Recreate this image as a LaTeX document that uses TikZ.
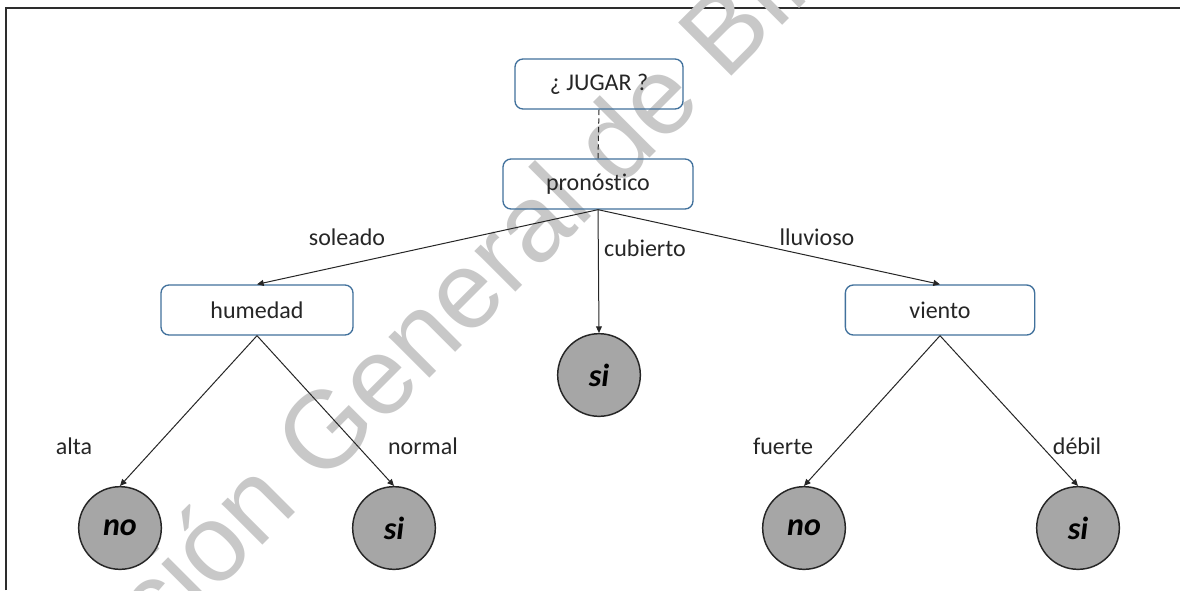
\documentclass[tikz,border=0pt]{standalone}
\usepackage{fontspec}
\setmainfont{Carlito}[Ligatures=NoCommon]
\newfontfamily\wmfont{Liberation Sans}
\usetikzlibrary{arrows.meta}
\definecolor{boxblue}{RGB}{65,113,156}
\definecolor{leafgray}{RGB}{166,166,166}
\definecolor{wmgray}{RGB}{200,200,200}
\definecolor{framegray}{RGB}{45,45,45}
\begin{document}
\begin{tikzpicture}[x=0.75pt,y=-0.75pt,
  decision/.style={draw=boxblue, line width=1pt, rounded corners=6pt,
    minimum height=37.5pt, inner sep=0pt,
    font=\fontsize{18}{20}\selectfont, text=black!85},
  leaf/.style={circle, draw=black!85, line width=1.1pt, fill=leafgray,
    minimum size=62pt, inner sep=0pt,
    font=\fontsize{24}{26}\selectfont\bfseries\itshape},
  branch/.style={draw=black!85, line width=0.75pt,
    -{Triangle[length=5pt,width=4.5pt]}},
  edgelabel/.style={font=\fontsize{18}{20}\selectfont, text=black!85, inner sep=0pt}]
\useasboundingbox (0,0) rectangle (1180,590);
\fill[white] (0,0) rectangle (1180,590);
% page frame (left and top edges)
\draw[framegray, line width=2pt] (6,590) -- (6,8) -- (1180,8);
% watermark
\begin{scope}
  \clip (0,0) rectangle (1180,590);
  \node[anchor=base west, rotate=45, inner sep=0pt, text=wmgray,
    font=\wmfont\fontsize{82}{82}\selectfont] (wm) at (-22,830)
    {Dirección General de Bibliotecas};
\end{scope}
% decision nodes
\node[decision, minimum width=126pt] (jugar) at (599,84) {¿ JUGAR ?};
\node[decision, minimum width=142.5pt] (pron) at (598,184) {pronóstico};
\node[decision, minimum width=144pt] (hum) at (257,310) {humedad};
\node[decision, minimum width=142pt] (vien) at (940,310) {viento};
% leaves
\node[leaf] (cub) at (599,375) {si};
\node[leaf] (alta) at (120,528) {no};
\node[leaf] (norm) at (394,528) {si};
\node[leaf] (fuer) at (804,528) {no};
\node[leaf] (deb) at (1078,528) {si};
% connectors
\draw[black!85, line width=0.75pt, dash pattern=on 4pt off 2.5pt] (jugar.south) -- (pron.north);
\draw[branch] (pron.south) -- (hum.north);
\draw[branch] (pron.south) -- (cub.north);
\draw[branch] (pron.south) -- (vien.north);
\draw[branch] (hum.south) -- (alta.north);
\draw[branch] (hum.south) -- (norm.north);
\draw[branch] (vien.south) -- (fuer.north);
\draw[branch] (vien.south) -- (deb.north);
% branch labels
\node[edgelabel] (lsol) at (347,237) {soleado};
\node[edgelabel] (lcub) at (645,248) {cubierto};
\node[edgelabel] (llluv) at (817,237) {lluvioso};
\node[edgelabel] (lalta) at (74,446) {alta};
\node[edgelabel] (lnorm) at (423,446) {normal};
\node[edgelabel] (lfuer) at (783,446) {fuerte};
\node[edgelabel] (ldeb) at (1077,446) {débil};
\end{tikzpicture}
\end{document}
